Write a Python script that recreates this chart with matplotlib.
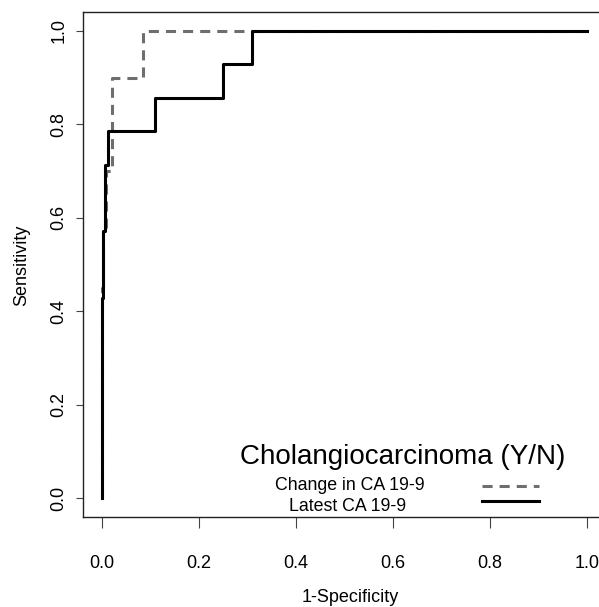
import matplotlib
matplotlib.use("Agg")
import matplotlib.pyplot as plt

# ROC steps
fpr_latest = [0, 0, 0.003, 0.003, 0.006, 0.006, 0.013, 0.013, 0.109, 0.109, 0.249, 0.249, 0.31, 0.31, 1.0]
tpr_latest = [0, 0.429, 0.429, 0.571, 0.571, 0.714, 0.714, 0.786, 0.786, 0.857, 0.857, 0.929, 0.929, 1.0, 1.0]

fpr_change = [0, 0, 0.003, 0.003, 0.008, 0.008, 0.02, 0.02, 0.084, 0.084, 1.0]
tpr_change = [0, 0.45, 0.45, 0.58, 0.58, 0.70, 0.70, 0.90, 0.90, 1.0, 1.0]

ticks = [0.0, 0.2, 0.4, 0.6, 0.8, 1.0]
tick_labels = ["0.0", "0.2", "0.4", "0.6", "0.8", "1.0"]
legend_title = "Cholangiocarcinoma (Y/N)"
legend_labels = ["Change in CA 19-9", "Latest CA 19-9"]

plt.rcParams['font.family'] = ['Liberation Sans', 'DejaVu Sans']

fig = plt.figure(figsize=(5.99, 6.07), dpi=100)
ax = fig.add_axes([82.6 / 599, 90 / 607, 523.7 / 599, 504.7 / 607])

dash = (0, (3.3, 2.3))
ax.plot(fpr_change, tpr_change, color='#6e6e6e', lw=2.2, linestyle=dash)
ax.plot(fpr_latest, tpr_latest, color='black', lw=2.2)

ax.set_xlim(-0.04, 1.04)
ax.set_ylim(-0.04, 1.04)
ax.set_xticks(ticks)
ax.set_xticklabels(tick_labels)
ax.set_yticks(ticks)
ax.set_yticklabels(tick_labels, rotation=90, va='center')
ax.tick_params(axis='x', length=8, width=0.8, pad=19, labelsize=13, color='#444444')
ax.tick_params(axis='y', length=5, width=0.8, pad=6, labelsize=13, color='#444444')
for s in ax.spines.values():
    s.set_linewidth(1.0)
    s.set_color('#222222')

ax.set_xlabel("1-Specificity", fontsize=13)
ax.set_ylabel("Sensitivity", fontsize=13)
ax.xaxis.set_label_coords((350 - 82.6) / 523.7, (517 - 598) / 504.7)
ax.xaxis.label.set_va('center')
ax.yaxis.set_label_coords((22 - 82.6) / 523.7, (517 - 265) / 504.7)
ax.yaxis.label.set_va('center')

# legend drawn R-style: title, centred labels, line samples
ax.text(0.62, 0.073, legend_title, fontsize=20, ha='center', va='baseline')
ax.text(0.511, 0.017, legend_labels[0], fontsize=12.8, ha='center', va='baseline')
ax.text(0.507, -0.028, legend_labels[1], fontsize=12.8, ha='center', va='baseline')
ax.plot([0.784, 0.901], [0.026, 0.026], color='#6e6e6e', lw=2.2, linestyle=dash)
ax.plot([0.784, 0.901], [-0.006, -0.006], color='black', lw=2.2)

fig.savefig("out.png", dpi=100)
